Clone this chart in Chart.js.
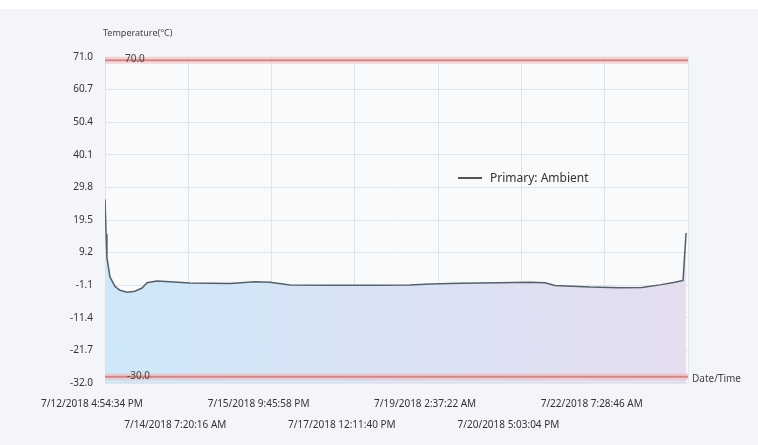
<!DOCTYPE html>
<html>
<head>
<meta charset="utf-8">
<script src="https://cdn.jsdelivr.net/npm/chart.js@4.4.0/dist/chart.umd.min.js"></script>
<style>
  html, body { margin: 0; padding: 0; background: #f3f5f8; }
  #wrap { position: relative; width: 758px; height: 445px; }
  #topband { position: absolute; left: 0; top: 0; width: 758px; height: 9px; background: #fff; }
  canvas { position: absolute; left: 0; top: 0; }
  .legend { position: absolute; left: 458px; top: 169px; font: 12px "Noto Sans", sans-serif; color: #333; display: flex; align-items: center; }
  .legend i { display: inline-block; width: 24px; height: 2px; background: #555; margin-right: 8px; }
</style>
</head>
<body>
<div id="wrap">
  <div id="topband"></div>
  <canvas id="chart" width="758" height="445"></canvas>
  <div class="legend"><i></i>Primary: Ambient</div>
</div>
<script>
// ---- Data ----
// hours since first sample
const hours = [0, 0.5, 0.9, 2.3, 4.6, 6.9, 10.2, 13.8, 17.1, 19.4, 24, 30, 39.2, 48.4, 57.7,
  69.2, 76.1, 85.4, 103.8, 122.3, 140.7, 150, 163.8, 182.3, 196, 203, 207.6, 223.8,
  237.6, 247.8, 256, 263, 266.7, 268.1];
const temps = [26.0, 15.0, 7.5, 1.5, -1.5, -2.7, -3.3, -3.0, -2.0, -0.3, 0.2, 0.0, -0.4, -0.5, -0.6,
  0.0, -0.2, -1.0, -1.1, -1.1, -1.0, -0.7, -0.5, -0.3, -0.2, -0.3, -1.2, -1.7,
  -1.9, -1.8, -1.0, -0.2, 0.4, 15.4];

const yTicks = [71.0, 60.7, 50.4, 40.1, 29.8, 19.5, 9.2, -1.1, -11.4, -21.7, -32.0];
const tickStep = 38.4283; // 38h 25m 42s
const xTickLabels = ['7/12/2018 4:54:34 PM', '7/14/2018 7:20:16 AM', '7/15/2018 9:45:58 PM',
  '7/17/2018 12:11:40 PM', '7/19/2018 2:37:22 AM', '7/20/2018 5:03:04 PM', '7/22/2018 7:28:46 AM', ''];
const upperLimit = 70.0;
const lowerLimit = -30.0;

const xMax = tickStep * 7;
const font = 'Noto Sans';

// ---- Custom drawing ----
const extras = {
  id: 'extras',
  beforeDraw(chart) {
    const { ctx, chartArea: a } = chart;
    ctx.save();
    ctx.fillStyle = '#f8fafc';
    ctx.fillRect(a.left, a.top, a.right - a.left, a.bottom - a.top);
    ctx.restore();
  },
  afterDraw(chart) {
    const { ctx, chartArea: a, scales } = chart;
    ctx.save();
    ctx.font = '10px "' + font + '"';
    ctx.fillStyle = '#444';
    ctx.textBaseline = 'middle';
    ctx.textAlign = 'left';
    ctx.fillText(upperLimit.toFixed(1), a.left + 20, scales.y.getPixelForValue(upperLimit) - 1);
    ctx.fillText(lowerLimit.toFixed(1), a.left + 22, scales.y.getPixelForValue(lowerLimit) - 1);
    ctx.font = '9px "' + font + '"';
    ctx.fillText('Temperature(\u00B0C)', a.left - 2, a.top - 24);
    ctx.font = '10px "' + font + '"';
    ctx.fillText('Date/Time', a.right + 4, scales.y.getPixelForValue(lowerLimit) + 2);
    ctx.restore();
  }
};

const ctx = document.getElementById('chart');
const ctx2d = ctx.getContext('2d');
const grad = ctx2d.createLinearGradient(105, 0, 688, 0);
grad.addColorStop(0, 'rgba(204,231,249,0.95)');
grad.addColorStop(1, 'rgba(228,220,240,0.95)');

const limitLine = (v, w, c) => ({
  data: [{ x: 0, y: v }, { x: xMax, y: v }],
  borderColor: c, borderWidth: w, pointRadius: 0, fill: false, order: 0, clip: false
});

new Chart(ctx, {
  type: 'line',
  data: {
    datasets: [
      {
        data: hours.map((h, i) => ({ x: h, y: temps[i] })),
        borderColor: '#56606b',
        borderWidth: 1.5,
        pointRadius: 0,
        tension: 0,
        fill: 'start',
        backgroundColor: grad,
        order: 5
      },
      limitLine(upperLimit, 7, 'rgba(245,190,190,0.6)'),
      limitLine(upperLimit, 2, '#9a3535'),
      limitLine(lowerLimit, 7, 'rgba(245,190,190,0.6)'),
      limitLine(lowerLimit, 2, '#9a3535')
    ]
  },
  options: {
    responsive: false,
    animation: false,
    layout: { padding: { left: 0, top: 57, right: 70, bottom: 0 } },
    plugins: { legend: { display: false }, tooltip: { enabled: false } },
    scales: {
      x: {
        type: 'linear', min: 0, max: xMax,
        afterBuildTicks: s => { s.ticks = xTickLabels.map((_, i) => ({ value: i * tickStep })); },
        afterFit: s => { s.height = 62; },
        grid: { color: '#e1e5eb', drawTicks: false },
        border: { display: false },
        ticks: {
          autoSkip: false, maxRotation: 0, padding: 11, labelOffset: -13,
          color: '#333', font: { family: font, size: 10, lineHeight: 2.1 },
          callback: (v, i) => i % 2 === 0 ? [xTickLabels[i], ''] : ['', xTickLabels[i]]
        }
      },
      y: {
        min: -32, max: 71,
        afterBuildTicks: s => { s.ticks = yTicks.map(v => ({ value: v })); },
        afterFit: s => { s.width = 105; },
        grid: { color: '#e1e5eb', drawTicks: false },
        border: { display: false },
        ticks: {
          padding: 12, color: '#333', font: { family: font, size: 10 },
          callback: v => v.toFixed(1)
        }
      }
    }
  },
  plugins: [extras]
});
</script>
</body>
</html>
